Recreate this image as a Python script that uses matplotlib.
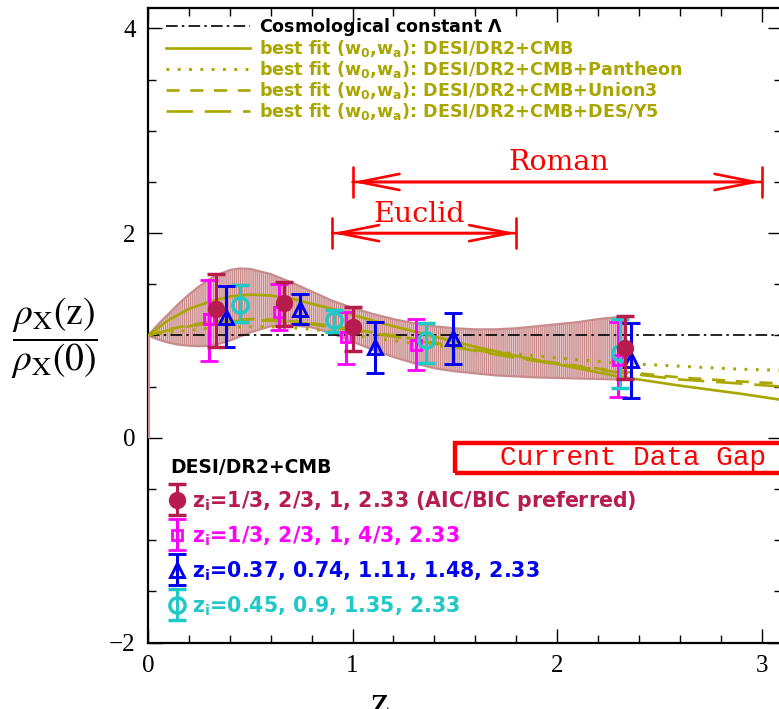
import matplotlib
matplotlib.use('Agg')
import matplotlib.pyplot as plt
import numpy as np
from matplotlib.patches import Rectangle
from matplotlib.container import ErrorbarContainer
from matplotlib.legend_handler import HandlerErrorbar

# ---------------- data ----------------
band_z = [0.0, 0.05, 0.1, 0.15, 0.2, 0.25, 0.3, 0.35, 0.4, 0.45, 0.5, 0.6, 0.7, 0.8,
          0.9, 1.0, 1.1, 1.2, 1.3, 1.4, 1.5, 1.6, 1.7, 1.8, 1.9, 2.0, 2.1, 2.2, 2.3, 2.33]
band_upper = [1.0, 1.11, 1.21, 1.31, 1.40, 1.48, 1.55, 1.60, 1.64, 1.655, 1.65, 1.60, 1.52, 1.43,
              1.34, 1.27, 1.21, 1.16, 1.12, 1.09, 1.07, 1.06, 1.06, 1.07, 1.09, 1.11, 1.13, 1.16, 1.18, 1.18]
band_lower = [1.0, 0.96, 0.93, 0.91, 0.90, 0.895, 0.90, 0.92, 0.95, 0.99, 1.03, 1.09, 1.10, 1.08,
              1.02, 0.94, 0.86, 0.79, 0.73, 0.68, 0.65, 0.63, 0.61, 0.60, 0.59, 0.585, 0.58, 0.575, 0.57, 0.57]

fit_z = [0.0, 0.1, 0.2, 0.3, 0.4, 0.5, 0.6, 0.7, 0.8, 0.9, 1.0, 1.2, 1.4, 1.6, 1.8, 2.0, 2.3, 2.6, 2.9, 3.1]
fit_cmb = [1.0, 1.15, 1.26, 1.33, 1.38, 1.40, 1.39, 1.36, 1.31, 1.26, 1.20, 1.09, 0.99, 0.89, 0.80, 0.72, 0.60, 0.51, 0.43, 0.37]
fit_pantheon = [1.0, 1.03, 1.05, 1.07, 1.08, 1.085, 1.085, 1.075, 1.06, 1.035, 1.00, 0.95, 0.90, 0.86, 0.82, 0.78, 0.73, 0.70, 0.67, 0.66]
fit_union3 = [1.0, 1.06, 1.10, 1.13, 1.15, 1.16, 1.155, 1.14, 1.12, 1.09, 1.06, 1.00, 0.93, 0.86, 0.79, 0.73, 0.65, 0.59, 0.55, 0.53]
fit_desy5 = [1.0, 1.05, 1.09, 1.12, 1.14, 1.15, 1.145, 1.13, 1.11, 1.08, 1.05, 0.99, 0.92, 0.85, 0.78, 0.72, 0.64, 0.57, 0.53, 0.50]

lcdm_value = 1.0

# binned reconstructions: z, value, lower bound, upper bound
z_aic = [0.333, 0.667, 1.0, 2.33]
y_aic = [1.26, 1.32, 1.08, 0.88]
lo_aic = [0.89, 1.09, 0.85, 0.57]
hi_aic = [1.60, 1.52, 1.28, 1.19]

z_mag = [0.30, 0.64, 0.97, 1.31, 2.30]
y_mag = [1.16, 1.23, 0.99, 0.91, 0.76]
lo_mag = [0.75, 1.05, 0.72, 0.66, 0.40]
hi_mag = [1.54, 1.50, 1.23, 1.16, 1.13]

z_blue = [0.38, 0.745, 1.11, 1.49, 2.36]
y_blue = [1.18, 1.26, 0.89, 0.98, 0.76]
lo_blue = [0.89, 1.11, 0.63, 0.72, 0.39]
hi_blue = [1.48, 1.41, 1.13, 1.22, 1.12]

z_cyan = [0.45, 0.91, 1.36, 2.31]
y_cyan = [1.30, 1.15, 0.96, 0.83]
lo_cyan = [1.13, 1.03, 0.73, 0.49]
hi_cyan = [1.49, 1.25, 1.12, 1.16]

lines_labels = [r'Cosmological constant $\mathbf{\Lambda}$',
                r'best fit (w$_\mathbf{0}$,w$_\mathbf{a}$): DESI/DR2+CMB',
                r'best fit (w$_\mathbf{0}$,w$_\mathbf{a}$): DESI/DR2+CMB+Pantheon',
                r'best fit (w$_\mathbf{0}$,w$_\mathbf{a}$): DESI/DR2+CMB+Union3',
                r'best fit (w$_\mathbf{0}$,w$_\mathbf{a}$): DESI/DR2+CMB+DES/Y5']
points_title = 'DESI/DR2+CMB'
points_labels = [r'z$_\mathbf{i}$=1/3, 2/3, 1, 2.33 (AIC/BIC preferred)',
                 r'z$_\mathbf{i}$=1/3, 2/3, 1, 4/3, 2.33',
                 r'z$_\mathbf{i}$=0.37, 0.74, 1.11, 1.48, 2.33',
                 r'z$_\mathbf{i}$=0.45, 0.9, 1.35, 2.33']

roman_range = [1.0, 3.0]
euclid_range = [0.9, 1.8]
gap_start = 1.5

# ---------------- style ----------------
plt.rcParams['mathtext.fontset'] = 'custom'
plt.rcParams['mathtext.rm'] = 'DejaVu Sans:bold'
plt.rcParams['mathtext.bf'] = 'DejaVu Sans:bold'
plt.rcParams['mathtext.it'] = 'DejaVu Sans:bold'
plt.rcParams['hatch.color'] = '#C58383'
plt.rcParams['hatch.linewidth'] = 0.9

OLIVE = '#AAA600'
CRIMSON = '#B71C4F'
MAGENTA = '#FF00FF'
BLUE = '#0000F0'
CYAN = '#20C8C8'
BANDC = '#C98C8C'

fig = plt.figure(figsize=(7.79, 7.09), dpi=100)
W, H = 779, 709
left_px, right_px, bottom_px, top_px = 148, 782, 642.5, 8
ax = fig.add_axes([left_px / W, (H - bottom_px) / H, (right_px - left_px) / W, (bottom_px - top_px) / H])
ax.set_xlim(0, 3.10)
ax.set_ylim(-2, 4.2)

# band
ax.fill_between(band_z, band_lower, band_upper, facecolor='#EDD0D0', edgecolor=BANDC,
                hatch='|' * 8, linewidth=0, zorder=1)
ax.plot(band_z, band_upper, color=BANDC, lw=1.6, zorder=1.5)
ax.plot(band_z, band_lower, color=BANDC, lw=1.6, zorder=1.5)
ax.vlines(band_z[0], 0, band_upper[0], color=BANDC, lw=2.2, zorder=6)

# lines
h_lcdm, = ax.plot([0, 3.1], [lcdm_value, lcdm_value], color='black', lw=1.2,
                  dashes=(7, 2.5, 1.5, 2.5), zorder=2)
h_cmb, = ax.plot(fit_z, fit_cmb, color=OLIVE, lw=1.9, zorder=3)
h_pan, = ax.plot(fit_z, fit_pantheon, color=OLIVE, lw=2.2, dashes=(0.9, 2.8), zorder=3)
h_uni, = ax.plot(fit_z, fit_union3, color=OLIVE, lw=1.9, dashes=(5, 4), zorder=3)
h_des, = ax.plot(fit_z, fit_desy5, color=OLIVE, lw=1.9, dashes=(10, 4.5), zorder=3)


def yerr(y, lo, hi):
    y = np.asarray(y); lo = np.asarray(lo); hi = np.asarray(hi)
    return np.vstack([y - lo, hi - y])


ekw = dict(elinewidth=2.2, capsize=6.5, capthick=2.5, linestyle='none')
e_mag = ax.errorbar(z_mag, y_mag, yerr=yerr(y_mag, lo_mag, hi_mag), fmt='s', ms=7.5,
                    mfc='none', mec=MAGENTA, mew=2.0, color=MAGENTA, zorder=4, **ekw)
e_cyan = ax.errorbar(z_cyan, y_cyan, yerr=yerr(y_cyan, lo_cyan, hi_cyan), fmt='o', ms=11,
                     mfc='none', mec=CYAN, mew=2.5, color=CYAN, zorder=4, **ekw)
e_blue = ax.errorbar(z_blue, y_blue, yerr=yerr(y_blue, lo_blue, hi_blue), fmt='^', ms=10,
                     mfc='none', mec=BLUE, mew=2.1, color=BLUE, zorder=4, **ekw)
e_aic = ax.errorbar(z_aic, y_aic, yerr=yerr(y_aic, lo_aic, hi_aic), fmt='o', ms=11.5,
                    mfc=CRIMSON, mec=CRIMSON, color=CRIMSON, zorder=5, **ekw)

# survey arrows
for rng, yv in [(roman_range, 2.50), (euclid_range, 2.0)]:
    ax.annotate('', xy=(rng[1], yv), xytext=(rng[0], yv),
                arrowprops=dict(arrowstyle='<->, head_length=1.45, head_width=0.29',
                                mutation_scale=20, lw=1.9, color='red', shrinkA=0, shrinkB=0))
    ax.annotate('', xy=(rng[1], yv), xytext=(rng[0], yv),
                arrowprops=dict(arrowstyle='|-|, widthA=0.54, widthB=0.54',
                                mutation_scale=20, lw=1.9, color='red', shrinkA=0, shrinkB=0))
ax.text(2.01, 2.69, 'Roman', color='red', fontsize=20.5, family='DejaVu Serif',
        ha='center', va='center')
ax.text(1.325, 2.18, 'Euclid', color='red', fontsize=20.5, family='DejaVu Serif',
        ha='center', va='center')

# data gap box
ax.add_patch(Rectangle((gap_start, -0.34), 2.0, 0.29, fill=False, ec='red', lw=3.2, zorder=6))
ax.text(2.37, -0.195, 'Current Data Gap', color='red', fontsize=20, family='Liberation Mono',
        ha='center', va='center')

# axes styling
for s in ax.spines.values():
    s.set_linewidth(1.6)
ax.set_xticks([0, 1, 2, 3])
ax.set_xticks(np.arange(0, 3.11, 0.2), minor=True)
ax.set_yticks([-2, 0, 2, 4])
ax.set_yticks(np.arange(-2, 4.21, 0.5), minor=True)
ax.tick_params(which='both', direction='in', top=True, right=True, width=1.0)
ax.tick_params(which='major', length=10, pad=9)
ax.tick_params(which='minor', length=5.5)
for lab in ax.get_xticklabels() + ax.get_yticklabels():
    lab.set_family('Liberation Serif')
    lab.set_fontsize(18)

fig.text(380 / W, 1 - 685 / H, 'z', fontsize=30, family='Liberation Serif', ha='center', va='top')
fig.text(54 / W, 1 - 338 / H,
         r'$\dfrac{\rho_{\mathrm{X}}(\mathrm{z})}{\rho_{\mathrm{X}}(0)}$',
         fontsize=27, math_fontfamily='stix', ha='center', va='center')

# legends
leg1 = ax.legend([h_lcdm, h_cmb, h_pan, h_uni, h_des], lines_labels,
                 loc='upper left', bbox_to_anchor=(0.028, 0.987), frameon=False,
                 prop={'family': 'DejaVu Sans', 'weight': 'bold', 'size': 12.6},
                 handlelength=4.8, handletextpad=0.55, labelspacing=0.0,
                 borderpad=0, borderaxespad=0,
                 labelcolor=['black', OLIVE, OLIVE, OLIVE, OLIVE])
ax.add_artist(leg1)

leg2 = ax.legend([e_aic, e_mag, e_blue, e_cyan], points_labels,
                 loc='upper left', bbox_to_anchor=(0.035, 0.290), frameon=False,
                 prop={'family': 'DejaVu Sans', 'weight': 'bold', 'size': 14.8},
                 title=points_title,
                 title_fontproperties={'family': 'DejaVu Sans', 'weight': 'bold', 'size': 13.5},
                 handlelength=0.62, handletextpad=0.42, labelspacing=0.55,
                 borderpad=0, borderaxespad=0, alignment='left',
                 handler_map={ErrorbarContainer: HandlerErrorbar(yerr_size=0.75)},
                 labelcolor=[CRIMSON, MAGENTA, BLUE, CYAN])

fig.savefig('out.png', dpi=100)
